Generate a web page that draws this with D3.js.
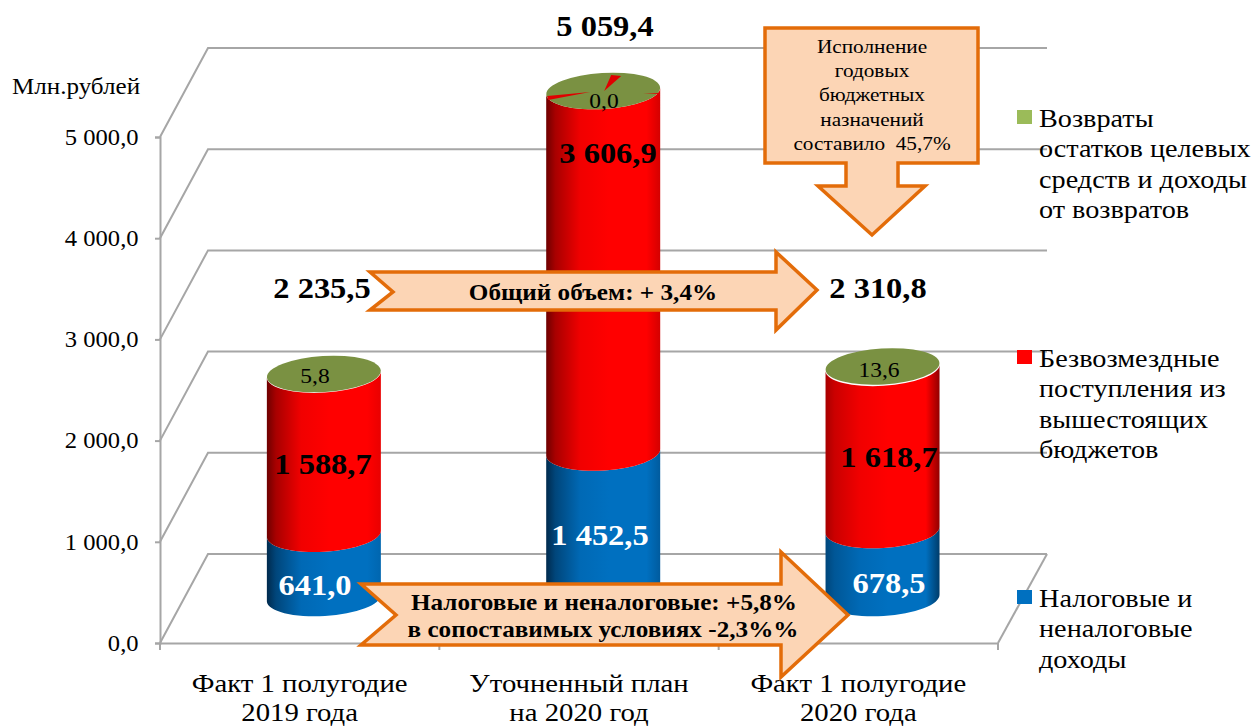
<!DOCTYPE html>
<html>
<head>
<meta charset="utf-8">
<script src="https://cdnjs.cloudflare.com/ajax/libs/d3/7.8.5/d3.min.js"></script>
<style>
html, body { margin: 0; background: #fff; }
svg { display: block; }
text { font-family: "Liberation Serif", serif; fill: #000; }
</style>
</head>
<body>
<script>
var categories = ['Факт 1 полугодие|2019 года', 'Уточненный план|на 2020 год', 'Факт 1 полугодие|2020 года'];
var taxValues = [641.0, 1452.5, 678.5];
var grantValues = [1588.7, 3606.9, 1618.7];
var returnValues = [5.8, 0.0, 13.6];
var totalLabels = ['2 235,5', '5 059,4', '2 310,8'];
var yTicks = [0, 1000, 2000, 3000, 4000, 5000];

var width = 1254;
var height = 726;
var sx = 1.12;
var depthX = 48;
var depthY = 89;
var rx = 57;
var ry = 18;
var tilt = -3.5;
var tiltDy = 3.5;
var orange = '#e36c09';
var peach = '#fcd5b5';
var grey = '#a6a6a6';

var svg = d3.select('body').append('svg').attr('width', width).attr('height', height);
var defs = svg.append('defs');

var x = d3.scaleBand().domain(d3.range(categories.length)).range([160, 998]);
var y = d3.scaleLinear().domain([0, 5000]).range([643, 137]);
// the columns stand mid-depth and come out slightly shorter than the walls
var yBar = d3.scaleLinear().domain([0, 5059.4]).range([598, 91]);
var fmt = d3.formatLocale({ decimal: ',', thousands: ' ', grouping: [3] }).format(',.1f');

function cx(i) { return x(i) + x.bandwidth() / 2 + depthX / 2 + 0.2; }

function label(parent, txt, px, py, size, weight, fill, sw) {
    return parent.append('text')
        .attr('transform', 'translate(' + px + ',' + py + ') scale(' + (sw || sx) + ',1)')
        .attr('text-anchor', 'middle')
        .attr('font-size', size)
        .attr('font-weight', weight || 'normal')
        .style('fill', fill || '#000')
        .text(txt);
}

// walls
var grid = svg.append('g').attr('fill', 'none').attr('stroke', grey).attr('stroke-width', 2);
yTicks.forEach(function (t) {
    grid.append('path').attr('d', d3.line()([
        [x.range()[0], y(t)],
        [x.range()[0] + depthX, y(t) - depthY],
        [x.range()[1] + depthX + 1, y(t) - depthY]
    ]));
});
grid.append('path').attr('d', d3.line()([
    [x.range()[1], y(0)],
    [x.range()[1] + depthX + 1, y(0) - depthY]
]));

// axes
var yAxis = svg.append('g')
    .attr('transform', 'translate(' + x.range()[0] + ',0)')
    .call(d3.axisLeft(y).tickValues(yTicks).tickSize(5).tickPadding(19).tickFormat(fmt));
yAxis.selectAll('path, line').attr('stroke', grey).attr('stroke-width', 2);
yAxis.selectAll('text')
    .attr('font-family', null).attr('font-size', 23)
    .attr('transform', 'scale(1.07,1)')
    .attr('x', -20);

var xAxis = svg.append('g')
    .attr('transform', 'translate(0,' + y(0) + ')')
    .call(d3.axisBottom(x).tickSize(0).tickFormat(''));
xAxis.select('.domain').attr('stroke', grey).attr('stroke-width', 2);
xAxis.selectAll('.tick').remove();
xAxis.selectAll('.edge')
    .data(d3.range(categories.length + 1))
    .enter().append('line')
    .attr('x1', function (i) { return x.range()[0] + i * x.step(); })
    .attr('x2', function (i) { return x.range()[0] + i * x.step(); })
    .attr('y2', 7)
    .attr('stroke', grey).attr('stroke-width', 2);

categories.forEach(function (c, i) {
    c.split('|').forEach(function (line, k) {
        label(svg, line, x(i) + x.bandwidth() / 2, 692 + k * 29, 25, 'normal', '#000', 1.15);
    });
});

label(svg, 'Млн.рублей', 76, 94, 22.4);

// columns
var seriesColors = ['#0070c0', '#ff0000', '#9bbb59'];
var darkColors = ['#002a4d', '#6e0000', '#4f6228'];
var edgeShade = [[1, 0.15], [1, 0.3], [0.6, 0.75]];

var table = categories.map(function (c, i) {
    return { i: i, tax: taxValues[i], grant: grantValues[i], ret: returnValues[i] };
});
var stack = d3.stack().keys(['tax', 'grant', 'ret'])(table);

stack.slice(0, 2).forEach(function (s, k) {
    categories.forEach(function (c, i) {
        var mix = d3.interpolateRgb(seriesColors[k], darkColors[k]);
        var g = defs.append('linearGradient').attr('id', 'g' + k + i);
        [[0, edgeShade[i][0]], [0.08, edgeShade[i][0] * 0.6], [0.3, 0.1], [0.55, 0], [0.88, 0], [1, edgeShade[i][1]]]
            .forEach(function (st) {
                g.append('stop').attr('offset', st[0]).attr('stop-color', mix(st[1]));
            });
    });
});

var columns = svg.append('g');
stack.slice(0, 2).forEach(function (s, k) {
    columns.selectAll('.seg' + k)
        .data(s)
        .enter().append('path')
        .attr('class', 'seg' + k)
        .attr('fill', function (d) { return 'url(#g' + k + d.data.i + ')'; })
        .attr('d', function (d) {
            var c = cx(d.data.i);
            var y0 = yBar(d[0]);
            var y1 = yBar(d[1]);
            var arc = 'A' + rx + ',' + ry + ' ' + tilt + ' 0 ';
            return 'M' + (c - rx) + ',' + (y0 + tiltDy) + arc + '0 ' + (c + rx) + ',' + (y0 - tiltDy) +
                'L' + (c + rx) + ',' + (y1 - tiltDy) + arc + '1 ' + (c - rx) + ',' + (y1 + tiltDy) + 'Z';
        });
});
columns.selectAll('.cap')
    .data(stack[2])
    .enter().append('ellipse')
    .attr('class', 'cap')
    .attr('rx', rx).attr('ry', ry)
    .attr('transform', function (d) {
        return 'translate(' + cx(d.data.i) + ',' + yBar(d[1]) + ') rotate(' + tilt + ')';
    })
    .attr('fill', '#7a9142');

// red slivers showing through the empty cap of the plan column
var capX = cx(1);
var capY = yBar(stack[2][1][1]);
[[[1, 0], [18, -15], [8, -16]], [[-13, 1], [-56, 5], [-55, 9]], [[40, 2], [56, 2], [56, 3]]].forEach(function (p) {
    columns.append('path')
        .attr('d', d3.line()(p.map(function (q) { return [capX + q[0], capY + q[1]]; })) + 'Z')
        .attr('fill', '#e00000');
});

// arrows
var shapes = svg.append('g').attr('fill', peach).attr('stroke', orange).attr('stroke-width', 3.5).attr('stroke-linejoin', 'miter');
shapes.append('path').attr('d', d3.line()([[370, 272], [776, 272], [776, 252], [817, 290], [776, 330], [776, 310], [370, 310], [393, 292]]) + 'Z');
shapes.append('path').attr('d', d3.line()([[361, 584], [781, 584], [781, 552], [848, 615], [781, 677], [781, 645], [361, 645], [396, 615]]) + 'Z');
shapes.append('path').attr('d', d3.line()([[765, 28], [978, 28], [978, 163], [898, 163], [898, 186], [925, 186], [872, 235], [818, 186], [846, 186], [846, 163], [765, 163]]) + 'Z');

label(svg, 'Исполнение', 872, 53, 19);
label(svg, 'годовых', 872, 77, 19);
label(svg, 'бюджетных', 872, 101, 19);
label(svg, 'назначений', 872, 126, 19);
label(svg, 'составило  45,7%', 872, 150, 19).style('white-space', 'pre');
label(svg, 'Общий объем: + 3,4%', 593, 300, 22.5, 'bold');
label(svg, 'Налоговые и неналоговые: +5,8%', 604, 610, 22.5, 'bold');
label(svg, 'в сопоставимых условиях -2,3%%', 603, 637, 22.5, 'bold');

// value labels, placed by hand like the moved labels of the original
var totalPos = [[322, 298], [605, 36], [878, 298]];
var taxPos = [[315, 595], [600, 545], [889, 593]];
var grantPos = [[323, 474], [608, 163], [889, 467]];
var returnPos = [[315, 383], [604, 108], [879, 377]];
totalLabels.forEach(function (t, i) {
    label(svg, t, totalPos[i][0], totalPos[i][1], 29, 'bold');
    label(svg, fmt(grantValues[i]), grantPos[i][0], grantPos[i][1], 29, 'bold');
    label(svg, fmt(returnValues[i]), returnPos[i][0], returnPos[i][1], 21);
    label(svg, fmt(taxValues[i]), taxPos[i][0], taxPos[i][1], 29, 'bold', '#fff');
});

// legend
var legendNames = [
    ['Возвраты', 'остатков целевых', 'средств и доходы', 'от возвратов'],
    ['Безвозмездные', 'поступления из', 'вышестоящих', 'бюджетов'],
    ['Налоговые и', 'неналоговые', 'доходы']
];
var legendColors = ['#9bbb59', '#ff0000', '#0070c0'];
var legendTop = [110, 350, 590];
legendNames.forEach(function (lines, i) {
    svg.append('rect').attr('x', 1017).attr('y', legendTop[i]).attr('width', 15).attr('height', 14).attr('fill', legendColors[i]);
    lines.forEach(function (line, k) {
        label(svg, line, 1039, legendTop[i] + 16.5 + k * 30.5, 25.2).attr('text-anchor', 'start');
    });
});
</script>
</body>
</html>
